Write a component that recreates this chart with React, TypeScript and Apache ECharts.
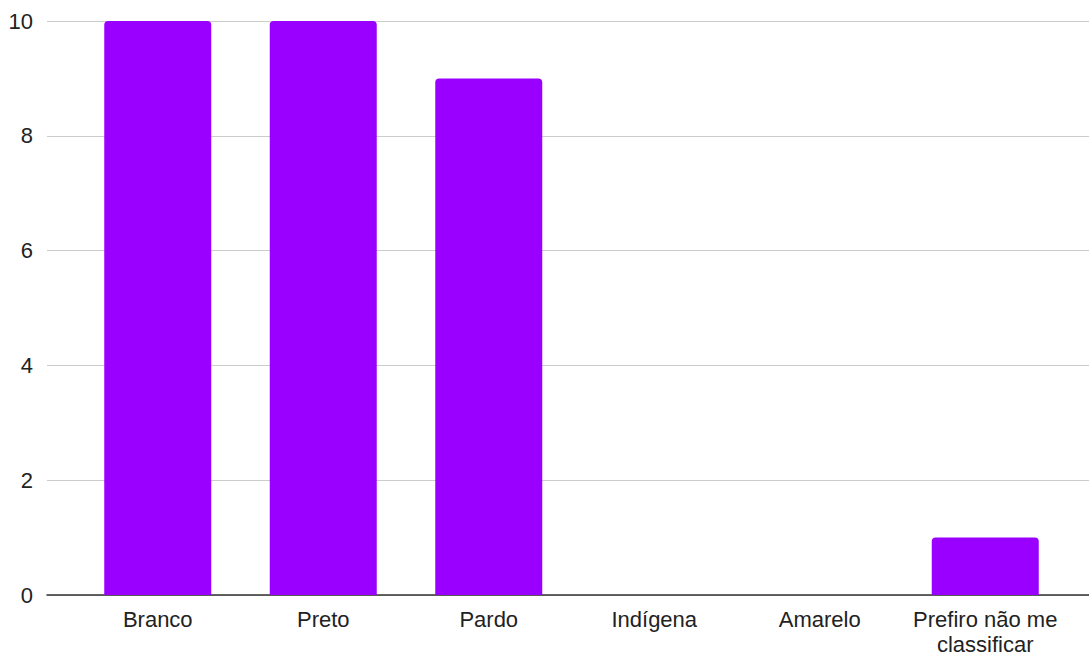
import React, { useEffect, useRef } from "react";
import * as echarts from "echarts";

const categories = ["Branco", "Preto", "Pardo", "Indígena", "Amarelo", "Prefiro não me\nclassificar"];
const values = [10, 10, 9, 0, 0, 1];
const yTicks = { min: 0, max: 10, interval: 2 };

export default function App() {
  const ref = useRef<HTMLDivElement>(null);
  useEffect(() => {
    const chart = echarts.init(ref.current!, null, { renderer: "svg" });
    const font = "Arial, 'Liberation Sans', sans-serif";
    chart.setOption({
      animation: false,
      grid: [
        { left: 47, right: 0, top: 21, bottom: 62, outerBoundsMode: "none", containLabel: false },
        { left: 75, right: 21, top: 21, bottom: 62, outerBoundsMode: "none", containLabel: false },
      ],
      xAxis: [
        {
          gridIndex: 0,
          type: "category",
          data: [""],
          axisLine: { show: true, lineStyle: { color: "#333333", width: 1.5 } },
          axisTick: { show: false },
          axisLabel: { show: false },
        },
        {
          gridIndex: 1,
          type: "category",
          data: categories,
          axisLine: { show: false },
          axisTick: { show: false },
          axisLabel: {
            color: "#222222",
            fontSize: 22,
            fontFamily: font,
            margin: 12,
            lineHeight: 25,
            interval: 0,
          },
        },
      ],
      yAxis: [
        {
          gridIndex: 0,
          type: "value",
          min: yTicks.min,
          max: yTicks.max,
          interval: yTicks.interval,
          axisLine: { show: false },
          axisTick: { show: false },
          axisLabel: { color: "#222222", fontSize: 22, fontFamily: font, margin: 14 },
          splitLine: { lineStyle: { color: "#cccccc", width: 1 } },
        },
        {
          gridIndex: 1,
          type: "value",
          min: yTicks.min,
          max: yTicks.max,
          interval: yTicks.interval,
          show: false,
          splitLine: { show: false },
        },
      ],
      series: [
        {
          type: "bar",
          xAxisIndex: 1,
          yAxisIndex: 1,
          data: values,
          barWidth: 107,
          itemStyle: { color: "#9900ff", borderRadius: [4, 4, 0, 0] },
          z: 3,
        },
      ],
    });
    return () => chart.dispose();
  }, []);
  return <div ref={ref} style={{ width: 1089, height: 657, position: "absolute", left: 0, top: 0 }} />;
}
